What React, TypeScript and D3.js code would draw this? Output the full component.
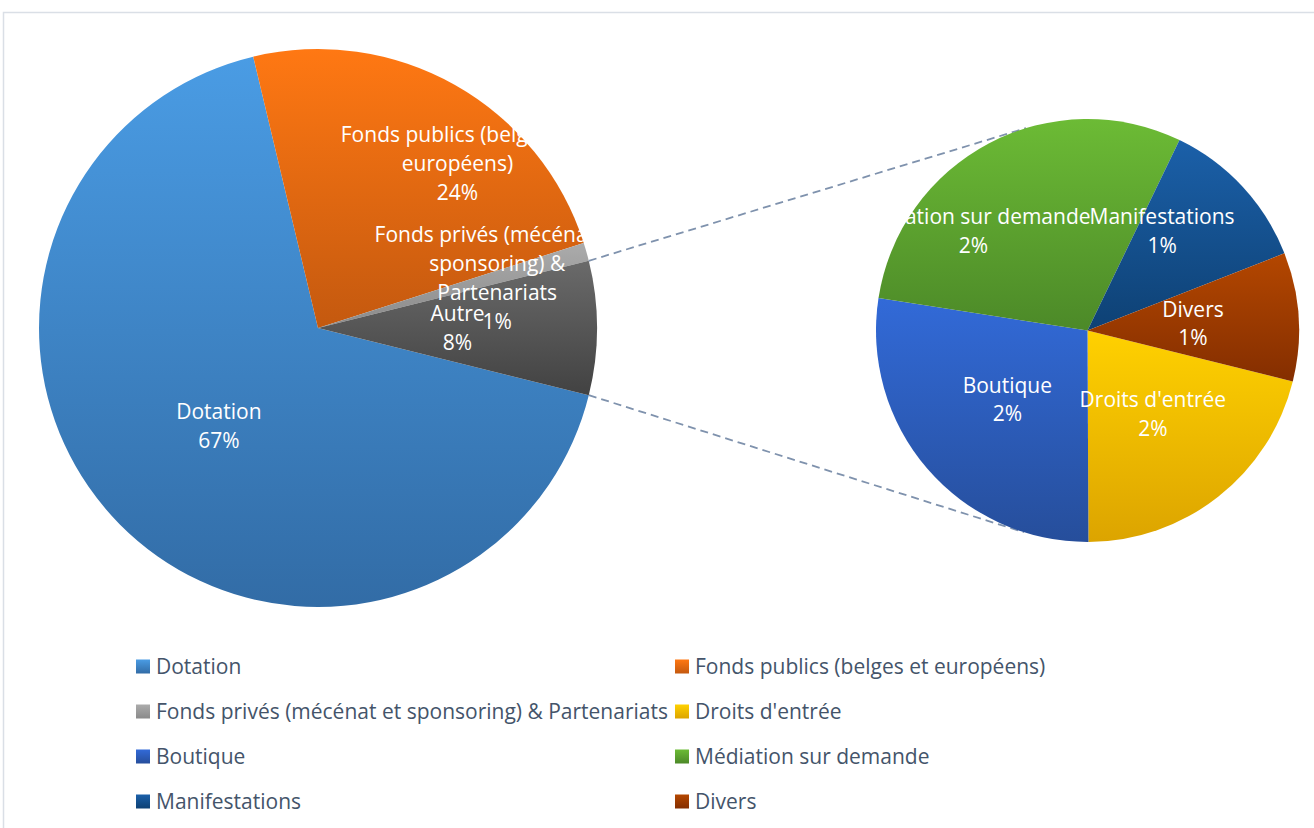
import React from 'react';
import * as d3 from 'd3';

// ---------- DATA ----------
const mainCategories = [
  'Dotation',
  'Fonds publics (belges et européens)',
  'Fonds privés (mécénat et sponsoring) & Partenariats',
];
const mainValues = [67.4, 23.8, 1.06];
const otherCategory = 'Autre';
const subCategories = ["Droits d'entrée", 'Boutique', 'Médiation sur demande', 'Manifestations', 'Divers'];
const subValues = [1.63, 2.13, 2.3, 0.92, 0.76];

// Label line breaks (as rendered in the chart)
const mainLabelLines = [
  ['Dotation'],
  ['Fonds publics (belges et', 'européens)'],
  ['Fonds privés (mécénat et', 'sponsoring) &', 'Partenariats'],
  ['Autre'],
];
const subLabelLines = [["Droits d'entrée"], ['Boutique'], ['Médiation sur demande'], ['Manifestations'], ['Divers']];

// ---------- STYLE ----------
const gradientStops: Record<string, [string, string]> = {
  Dotation: ['#4a9ce4', '#326ca6'],
  'Fonds publics (belges et européens)': ['#ff7813', '#c4590f'],
  'Fonds privés (mécénat et sponsoring) & Partenariats': ['#ababab', '#8a8a8a'],
  Autre: ['#6a6a6a', '#424242'],
  "Droits d'entrée": ['#ffd100', '#dca400'],
  Boutique: ['#326ad8', '#264e9b'],
  'Médiation sur demande': ['#6cbb35', '#4c8928'],
  Manifestations: ['#1b60a9', '#0e4174'],
  Divers: ['#b44700', '#842e00'],
};

const W = 1314;
const H = 828;
const FONT = "'Open Sans', 'Segoe UI', sans-serif";
const FS = 21;
const LH = 28.8;

const main = { cx: 318, cy: 328, r: 279 };
const sub = { cx: 1087.5, cy: 330.5, r: 211.5 };

// label nudges relative to the 50%-radius centroid (best-fit placement)
const mainLabelOffsets = [[0, 0], [71, -43], [45, -12], [0, 0]];
const subLabelOffsets = [[0, 0], [0, 0], [-65, -6], [-3, -28], [0, 0]];

const legendItems = [...mainCategories, ...subCategories];

const gid = (name: string) => 'g' + legendItems.concat([otherCategory]).indexOf(name);

function tangentPoint(px: number, py: number, c: { cx: number; cy: number; r: number }, upper: boolean) {
  const dx = px - c.cx;
  const dy = py - c.cy;
  const d = Math.sqrt(dx * dx + dy * dy);
  const phi = Math.atan2(dy, dx);
  const a = Math.acos(c.r / d);
  const ang = upper ? phi + a : phi - a;
  return [c.cx + c.r * Math.cos(ang), c.cy + c.r * Math.sin(ang)];
}

export default function App() {
  const autreValue = d3.sum(subValues);
  const mainData = [...mainValues, autreValue];
  const mainNames = [...mainCategories, otherCategory];
  const total = d3.sum(mainData);
  const autreMidFrac = (d3.sum(mainValues) + autreValue / 2) / total;
  const mainStart = Math.PI / 2 - 2 * Math.PI * autreMidFrac;
  const mainArcs = d3
    .pie<number>()
    .sort(null)
    .startAngle(mainStart)
    .endAngle(mainStart + 2 * Math.PI)(mainData);
  const autreArc = mainArcs[3];
  const subStart = autreArc.endAngle;
  const subArcs = d3
    .pie<number>()
    .sort(null)
    .startAngle(subStart)
    .endAngle(subStart + 2 * Math.PI)(subValues);

  const mainArcGen = d3.arc<d3.PieArcDatum<number>>().innerRadius(0).outerRadius(main.r);
  const mainLabelArc = d3.arc<d3.PieArcDatum<number>>().innerRadius(main.r * 0.5).outerRadius(main.r * 0.5);
  const subArcGen = d3.arc<d3.PieArcDatum<number>>().innerRadius(0).outerRadius(sub.r);
  const subLabelArc = d3.arc<d3.PieArcDatum<number>>().innerRadius(sub.r * 0.5).outerRadius(sub.r * 0.5);
  const pct = d3.format('.0%');

  // connector lines
  const p1 = [main.cx + main.r * Math.sin(autreArc.startAngle), main.cy - main.r * Math.cos(autreArc.startAngle)];
  const p2 = [main.cx + main.r * Math.sin(autreArc.endAngle), main.cy - main.r * Math.cos(autreArc.endAngle)];
  const t1 = tangentPoint(p1[0], p1[1], sub, true);
  const t2 = tangentPoint(p2[0], p2[1], sub, false);

  const renderLabel = (lines: string[], x: number, y: number, key: string) => {
    const n = lines.length;
    return (
      <text key={key} fill="#ffffff" fontFamily={FONT} fontSize={FS} textAnchor="middle">
        {lines.map((l, i) => (
          <tspan key={i} x={x} y={y + (i - (n - 1) / 2) * LH + 7.5}>
            {l}
          </tspan>
        ))}
      </text>
    );
  };

  const legendRowY = (i: number) => 666.5 + Math.floor(i / 2) * 45;
  const legendColX = [136, 675];

  return (
    <svg
      width={W}
      height={H}
      style={{ position: 'absolute', left: 0, top: 0, background: '#ffffff' }}
      xmlns="http://www.w3.org/2000/svg"
    >
      <defs>
        {legendItems.concat([otherCategory]).map((name) => (
          <linearGradient key={name} id={gid(name)} x1="0" y1="0" x2="0" y2="1">
            <stop offset="0" stopColor={gradientStops[name][0]} />
            <stop offset="1" stopColor={gradientStops[name][1]} />
          </linearGradient>
        ))}
      </defs>
      <rect x={3.5} y={12.5} width={W + 20} height={H + 20} fill="#ffffff" stroke="#dadfe6" strokeWidth={1.5} />

      {/* main pie */}
      <g transform={`translate(${main.cx},${main.cy})`}>
        {mainArcs.map((a, i) => (
          <path key={i} d={mainArcGen(a) || ''} fill={`url(#${gid(mainNames[i])})`} />
        ))}
      </g>

      {/* connector lines */}
      <line x1={p1[0]} y1={p1[1]} x2={t1[0]} y2={t1[1]} stroke="#7f92ad" strokeWidth={1.8} strokeDasharray="8 5" />
      <line x1={p2[0]} y1={p2[1]} x2={t2[0]} y2={t2[1]} stroke="#7f92ad" strokeWidth={1.8} strokeDasharray="8 5" />

      {/* secondary pie */}
      <g transform={`translate(${sub.cx},${sub.cy})`}>
        {subArcs.map((a, i) => (
          <path key={i} d={subArcGen(a) || ''} fill={`url(#${gid(subCategories[i])})`} />
        ))}
      </g>

      {/* labels */}
      {mainArcs.map((a, i) => {
        const [x, y] = mainLabelArc.centroid(a);
        return renderLabel(
          [...mainLabelLines[i], pct(a.data / total)],
          main.cx + x + mainLabelOffsets[i][0],
          main.cy + y + mainLabelOffsets[i][1],
          'm' + i
        );
      })}
      {subArcs.map((a, i) => {
        const [x, y] = subLabelArc.centroid(a);
        return renderLabel(
          [...subLabelLines[i], pct(a.data / total)],
          sub.cx + x + subLabelOffsets[i][0],
          sub.cy + y + subLabelOffsets[i][1],
          's' + i
        );
      })}

      {/* legend */}
      {legendItems.map((name, i) => {
        const x = legendColX[i % 2];
        const y = legendRowY(i);
        return (
          <g key={name}>
            <rect x={x} y={y - 7} width={14} height={14} fill={`url(#${gid(name)})`} />
            <text x={x + 20} y={y + 7.3} fill="#44546a" fontFamily={FONT} fontSize={FS}>
              {name}
            </text>
          </g>
        );
      })}
    </svg>
  );
}
